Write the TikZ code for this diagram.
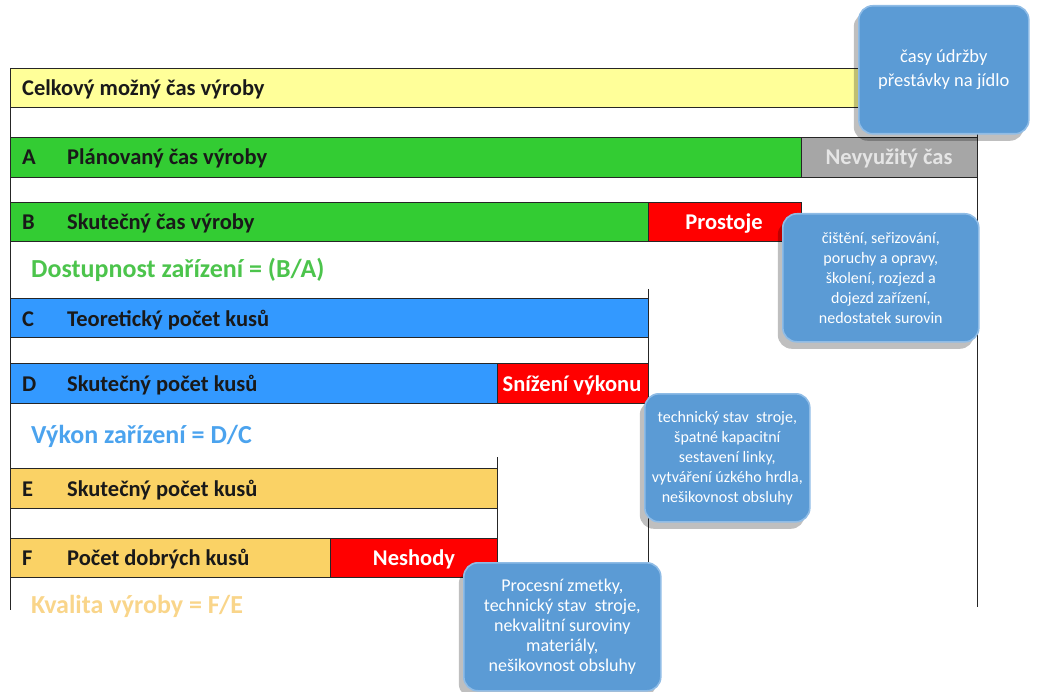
\documentclass[tikz,border=0pt]{standalone}
\usepackage{fontspec}
\setmainfont{Carlito}
\usetikzlibrary{shadows}
\definecolor{barYellow}{HTML}{FFFF99}
\definecolor{barGreen}{HTML}{33CC33}
\definecolor{barGray}{HTML}{A6A6A6}
\definecolor{barRed}{HTML}{FF0000}
\definecolor{barBlue}{HTML}{3399FF}
\definecolor{barOrange}{HTML}{FAD265}
\definecolor{ratioGreen}{HTML}{4CC44C}
\definecolor{ratioBlue}{HTML}{4BA3EE}
\definecolor{ratioOrange}{HTML}{F9D58A}
\definecolor{noteBlue}{HTML}{5B9BD5}
\definecolor{noteEdge}{HTML}{8FBCE6}

\begin{document}
\begin{tikzpicture}[x=1pt,y=-1pt,
  bar/.style={draw=black!85, line width=0.9pt},
  lbl/.style={font=\bfseries\fontsize{22.5}{26}\selectfont, anchor=west, inner sep=0pt,
    text height=18pt, text depth=4pt, text=black!90},
  loss/.style={font=\bfseries\fontsize{22.5}{26}\selectfont, inner sep=0pt,
    text height=18pt, text depth=4pt, text=white},
  ratio/.style={font=\bfseries\fontsize{26}{30}\selectfont, anchor=west, inner sep=0pt,
    text height=22pt, text depth=5pt},
  note/.style={rounded corners=14pt, fill=noteBlue, draw=noteEdge, line width=1.6pt,
    text=white, align=center, font=\fontsize{16}{20}\selectfont, inner sep=0pt,
    anchor=north west, minimum height=128pt,
    drop shadow={shadow xshift=-5pt, shadow yshift=-7pt, opacity=0.25, fill=black}}]
\useasboundingbox (0,0) rectangle (1051,692);
% frame lines
\draw[bar] (10,68) -- (10,610);
\draw[bar] (977,68) -- (977,607);
\draw[bar] (648,289) -- (648,607);
\draw[bar] (497,457) -- (497,607);
% bars: top/bottom/left/right/colour
\foreach \ya/\yb/\xa/\xb/\col in {68/107/10/977/barYellow, 137/177/10/801/barGreen,
    137/177/801/977/barGray, 202/241/10/648/barGreen, 202/241/648/801/barRed,
    298/337/10/648/barBlue, 363/403/10/497/barBlue, 363/403/497/648/barRed,
    468/508/10/497/barOrange, 538/577/10/330/barOrange, 538/577/330/497/barRed} {
  \filldraw[bar, fill=\col] (\xa,\ya) rectangle (\xb,\yb);
}
% bar labels
\node[lbl] (total) at (22,89) {Celkový možný čas výroby};
\foreach \k/\y/\t in {A/158/Plánovaný čas výroby, B/223/Skutečný čas výroby,
    C/319/Teoretický počet kusů, D/384/Skutečný počet kusů,
    E/489/Skutečný počet kusů, F/558/Počet dobrých kusů} {
  \node[lbl] (key\k) at (22,\y) {\k};
  \node[lbl] (txt\k) at (67,\y) {\t};
}
% losses
\node[loss, text=black!10] (unused) at (889,158) {Nevyužitý čas};
\node[loss] (stops) at (724,223) {Prostoje};
\node[loss] (slow) at (572,384) {Snížení výkonu};
\node[loss] (defects) at (414,558) {Neshody};
% ratios
\node[ratio, text=ratioGreen] (avail) at (31,269) {Dostupnost zařízení = (B/A)};
\node[ratio, text=ratioBlue] (perf) at (31,435) {Výkon zařízení = D/C};
\node[ratio, text=ratioOrange] (qual) at (31,605) {Kvalita výroby = F/E};
% callouts
\node[note, minimum width=170pt, font=\fontsize{18.5}{24}\selectfont] (upkeep) at (858,5)
  {časy údržby\\přestávky na jídlo};
\node[note, minimum width=196pt] (downtime) at (782,213)
  {čištění, seřizování,\\poruchy a opravy,\\školení, rozjezd a\\dojezd zařízení,\\nedostatek surovin};
\node[note, minimum width=165pt] (speed) at (644,393)
  {technický stav\ \ stroje,\\špatné kapacitní\\sestavení linky,\\vytváření úzkého hrdla,\\nešikovnost obsluhy};
\node[note, minimum width=197pt, font=\fontsize{18}{20}\selectfont] (quality) at (463,562)
  {Procesní zmetky,\\technický stav\ \ stroje,\\nekvalitní suroviny\\materiály,\\nešikovnost obsluhy};
\end{tikzpicture}
\end{document}
